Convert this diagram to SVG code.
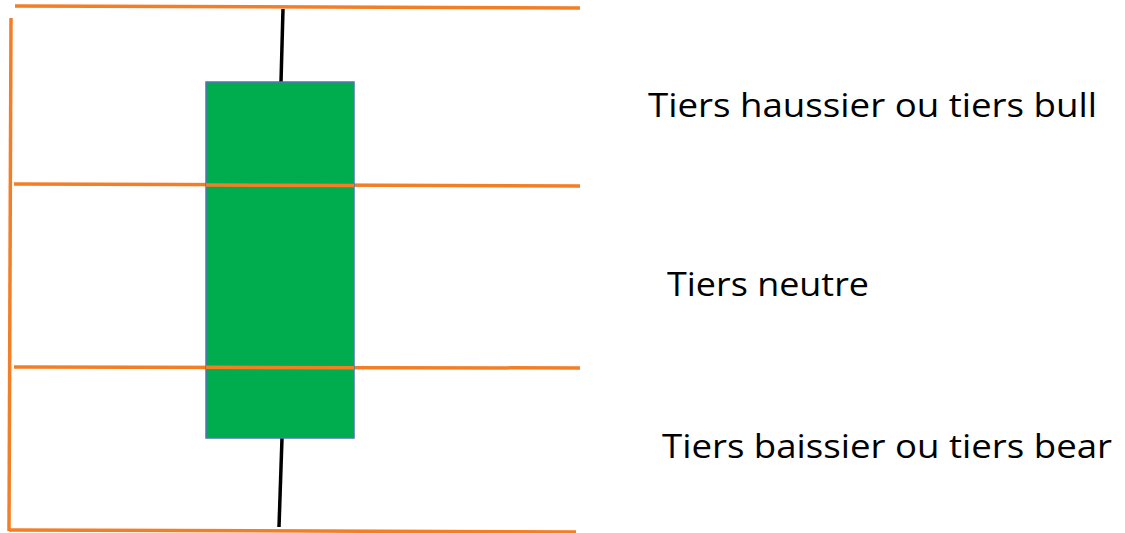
<svg xmlns="http://www.w3.org/2000/svg" width="1125" height="533" viewBox="0 0 1125 533">
<style>
.grid{stroke:#F47E25;stroke-width:3.5;fill:none;stroke-linecap:butt}
.wick{stroke:#000;stroke-width:3.5;fill:none}
.lbl{font-family:"Open Sans","Liberation Sans",Arial,sans-serif;font-size:33px;fill:#000}
</style>
<rect width="1125" height="533" fill="#fff"/>
<g id="grid">
<line class="grid" x1="15" y1="6" x2="580" y2="8"/>
<line class="grid" x1="11" y1="18" x2="9" y2="531"/>
<line class="grid" x1="14" y1="184" x2="580" y2="186"/>
<line class="grid" x1="14" y1="367" x2="580" y2="368"/>
<line class="grid" x1="9" y1="530" x2="576" y2="532"/>
</g>
<g id="candle">
<line class="wick" x1="283" y1="9" x2="281" y2="82"/>
<line class="wick" x1="282" y1="438" x2="279" y2="527"/>
<rect x="206" y="82" width="148" height="356" fill="#00AD4E" stroke="#4F74B8" stroke-width="1.5"/>
<line class="grid" x1="206" y1="185" x2="354" y2="185.5"/>
<line class="grid" x1="206" y1="367.3" x2="354" y2="367.8"/>
</g>
<g id="labels">
<text class="lbl" x="648" y="117" textLength="449" lengthAdjust="spacingAndGlyphs">Tiers haussier ou tiers bull</text>
<text class="lbl" x="667" y="296" textLength="202" lengthAdjust="spacingAndGlyphs">Tiers neutre</text>
<text class="lbl" x="662" y="458" textLength="450" lengthAdjust="spacingAndGlyphs">Tiers baissier ou tiers bear</text>
</g>
</svg>
